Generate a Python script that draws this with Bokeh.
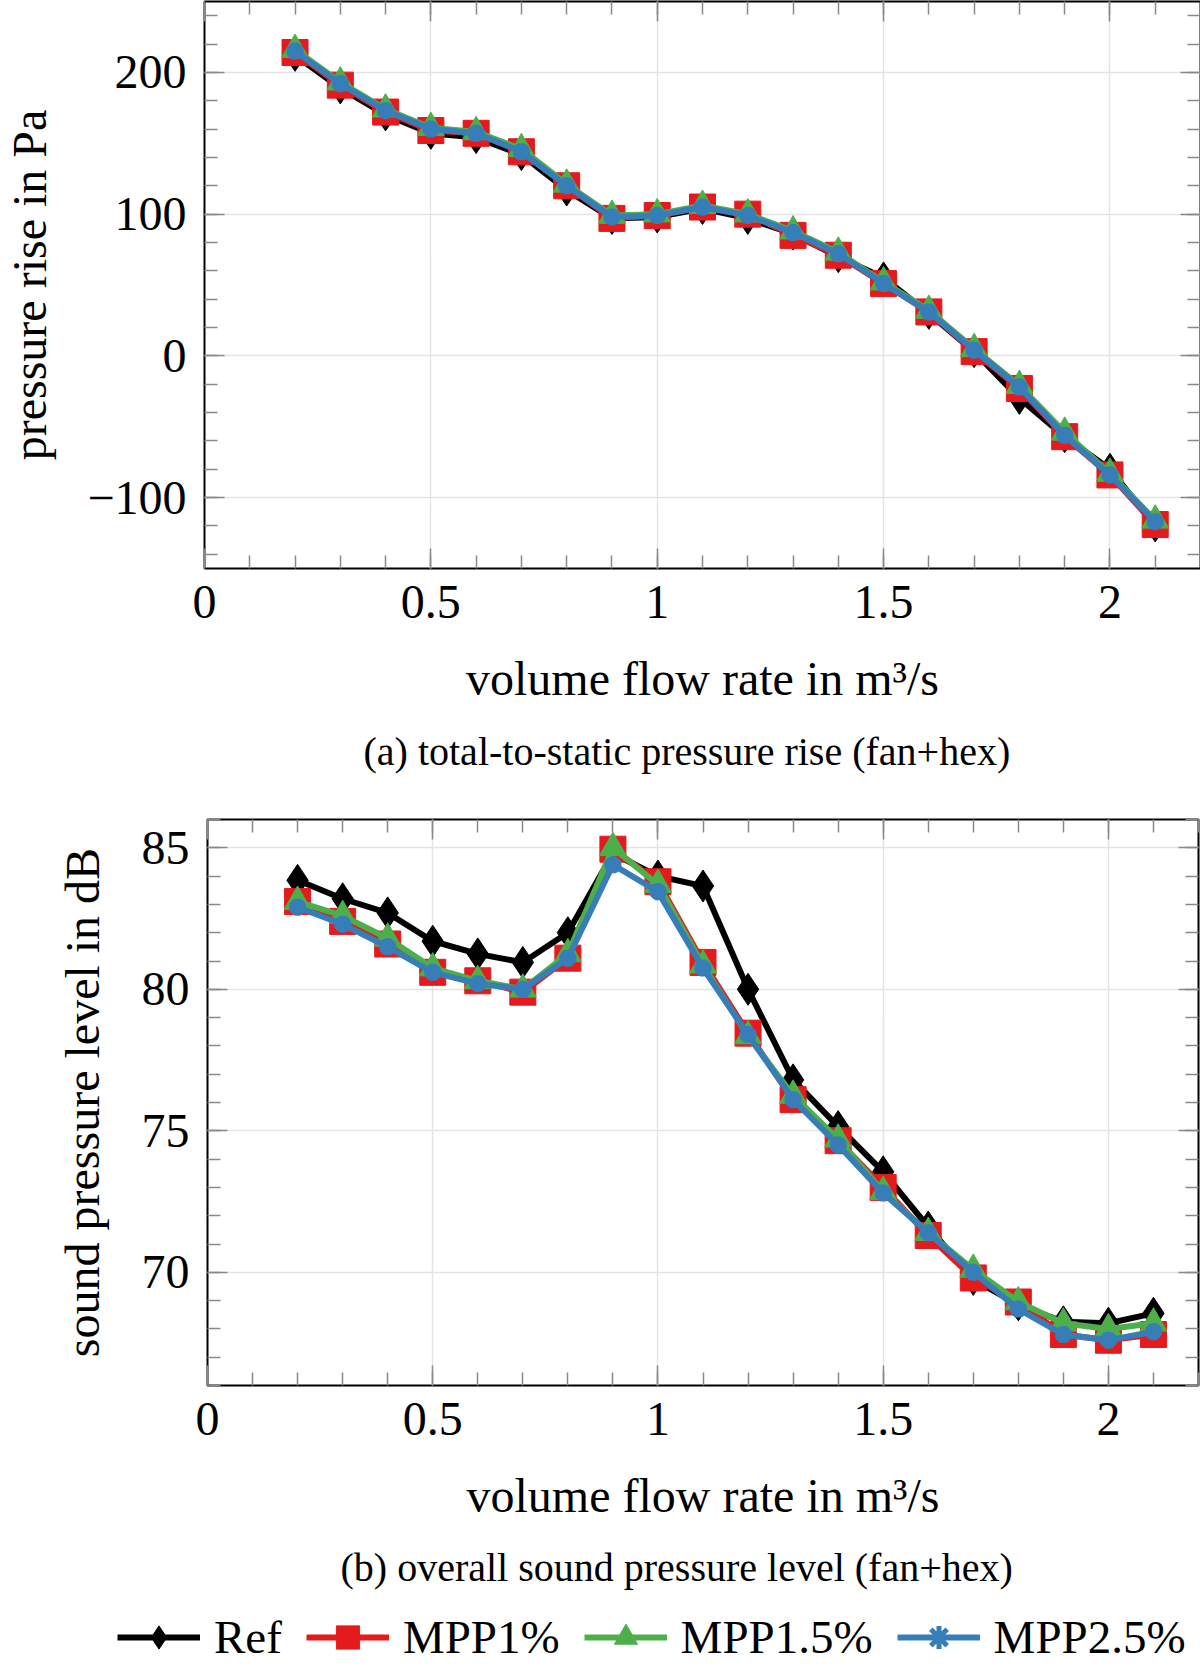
from bokeh.plotting import figure
from bokeh.layouts import column
from bokeh.models import (Range1d, LinearAxis, Title, Legend, LegendItem,
                          SingleIntervalTicker, ColumnDataSource)
from bokeh.embed import file_html
from bokeh.resources import INLINE

# ---------------- data ----------------
flow = [0.2, 0.3, 0.4, 0.5, 0.6, 0.7, 0.8, 0.9, 1.0, 1.1,
        1.2, 1.3, 1.4, 1.5, 1.6, 1.7, 1.8, 1.9, 2.0, 2.1]

dp_ref = [212, 189, 170, 157, 154, 142, 117, 97, 98, 104,
          97, 86, 70, 55, 30, 3, -30, -57, -80, -120]
dp_mpp1 = [214, 191, 172, 159, 157, 144, 120, 97, 99, 105,
           100, 85, 71, 51, 31, 3, -23, -57, -84, -119]
dp_mpp15 = [216, 193, 174, 161, 158, 146, 121, 99, 100, 106,
            100, 88, 73, 52, 32, 5, -21, -54, -83, -116]
dp_mpp25 = [215, 192, 173, 160, 157, 144, 120, 98, 99, 105,
            99, 87, 72, 51, 31, 4, -22, -56, -84, -117]

spl_ref = [83.85, 83.2, 82.7, 81.7, 81.25, 80.95, 82.0, 84.8, 84.0, 83.65,
           80.0, 76.8, 75.15, 73.55, 71.6, 69.75, 68.85, 68.25, 68.2, 68.55]
spl_mpp1 = [83.1, 82.4, 81.6, 80.6, 80.3, 79.9, 81.1, 84.95, 83.8, 80.95,
            78.45, 76.1, 74.65, 73.0, 71.3, 69.8, 68.95, 67.8, 67.6, 67.8]
spl_mpp15 = [83.1, 82.6, 81.8, 80.75, 80.3, 80.0, 81.25, 85.0, 83.7, 80.85,
             78.35, 76.25, 74.7, 72.85, 71.4, 70.1, 68.95, 68.2, 68.0, 68.2]
spl_mpp25 = [82.9, 82.3, 81.5, 80.6, 80.2, 80.0, 81.1, 84.4, 83.45, 80.75,
             78.4, 76.1, 74.5, 72.8, 71.4, 70.0, 68.7, 67.8, 67.6, 67.9]

series_names = ["Ref", "MPP1%", "MPP1.5%", "MPP2.5%"]
x_tick_labels = {0: "0", 0.5: "0.5", 1: "1", 1.5: "1.5", 2: "2"}
dp_tick_labels = {-100: "\u2212100", 0: "0", 100: "100", 200: "200"}
spl_tick_labels = {70: "70", 75: "75", 80: "80", 85: "85"}

# ---------------- style ----------------
FONT = "Liberation Serif"
FS = "48px"
COLORS = ["#000000", "#e41a1c", "#4daf4a", "#377eb8"]
MARKERS = ["diamond", "square", "triangle", "asterisk"]
MSIZES = [32, 26, 27, 17]
LW = 6
TICK_COLOR = "#8a8a8a"
FIG_W = 1200
FRAME_RIGHT_PAD = 2


def style_axis(ax, show_labels=True):
    ax.major_tick_in = 20
    ax.major_tick_out = 0
    ax.minor_tick_in = 13
    ax.minor_tick_out = 0
    ax.major_tick_line_color = TICK_COLOR
    ax.minor_tick_line_color = TICK_COLOR
    ax.major_tick_line_width = 1.5
    ax.minor_tick_line_width = 1.5
    ax.axis_line_color = None
    if show_labels:
        ax.major_label_text_font = FONT
        ax.major_label_text_font_size = FS
        ax.major_label_text_color = "black"
        ax.axis_label_text_font = FONT
        ax.axis_label_text_font_size = FS
        ax.axis_label_text_font_style = "normal"
        ax.axis_label_text_color = "black"
    else:
        ax.major_label_text_font_size = "1px"
        ax.major_label_text_color = None
        ax.major_label_standoff = 0
        ax.axis_label = None


def make_panel(yvals, yrange, yticker_interval, ylabels, ylabel, caption,
               frame_left, frame_h, top, bottom, ylabel_standoff, cap_offset,
               cap_standoff):
    frame_w = FIG_W - frame_left - FRAME_RIGHT_PAD
    p = figure(width=FIG_W, height=top + frame_h + bottom,
               frame_width=frame_w, frame_height=frame_h,
               x_range=Range1d(0, 2.2), y_range=Range1d(*yrange),
               output_backend="svg", toolbar_location=None, title=None,
               min_border_left=frame_left, min_border_right=FRAME_RIGHT_PAD,
               min_border_top=top, min_border_bottom=bottom)
    p.frame_align = False
    p.background_fill_color = "white"
    p.border_fill_color = "white"
    p.outline_line_color = "black"
    p.outline_line_width = 2

    xt = SingleIntervalTicker(interval=0.5, num_minor_ticks=5)
    yt = SingleIntervalTicker(interval=yticker_interval, num_minor_ticks=5)

    xa = p.xaxis[0]
    xa.ticker = xt
    xa.major_label_overrides = x_tick_labels
    xa.axis_label = "volume flow rate in m\u00b3/s"
    style_axis(xa)
    xa.major_label_standoff = 17
    xa.axis_label_standoff = 31

    ya = p.yaxis[0]
    ya.ticker = yt
    ya.major_label_overrides = ylabels
    ya.axis_label = ylabel
    style_axis(ya)
    ya.major_label_standoff = 18
    ya.axis_label_standoff = ylabel_standoff

    top_ax = LinearAxis(ticker=xt)
    style_axis(top_ax, show_labels=False)
    p.add_layout(top_ax, "above")
    right_ax = LinearAxis(ticker=yt)
    style_axis(right_ax, show_labels=False)
    p.add_layout(right_ax, "right")

    p.xgrid.ticker = xt
    p.ygrid.ticker = yt
    for g in (p.xgrid[0], p.ygrid[0]):
        g.grid_line_color = "#e4e4e4"
        g.grid_line_width = 1.5

    src = ColumnDataSource(dict(x=flow, y0=yvals[0], y1=yvals[1],
                                y2=yvals[2], y3=yvals[3]))
    for i in range(4):
        col = "y%d" % i
        p.line("x", col, source=src, line_color=COLORS[i], line_width=LW,
               line_join="miter")
        if MARKERS[i] == "asterisk":
            p.scatter("x", col, source=src, marker="asterisk", size=MSIZES[i],
                      line_color=COLORS[i], line_width=6)
        else:
            p.scatter("x", col, source=src, marker=MARKERS[i], size=MSIZES[i],
                      fill_color=COLORS[i], line_color=COLORS[i], line_width=1)

    cap = Title(text=caption, align="left", text_font=FONT,
                text_font_size="40px", text_font_style="normal",
                text_color="black", standoff=cap_standoff, offset=cap_offset)
    p.add_layout(cap, "below")
    return p


pA = make_panel([dp_ref, dp_mpp1, dp_mpp15, dp_mpp25], (-150, 250), 100,
                dp_tick_labels, "pressure rise in Pa",
                "(a) total-to-static pressure rise (fan+hex)",
                frame_left=202, frame_h=567, top=1, bottom=223,
                ylabel_standoff=28, cap_offset=159, cap_standoff=38)

pB = make_panel([spl_ref, spl_mpp1, spl_mpp15, spl_mpp25], (66, 86), 5,
                spl_tick_labels, "sound pressure level in dB",
                "(b) overall sound pressure level (fan+hex)",
                frame_left=207, frame_h=566, top=27, bottom=223,
                ylabel_standoff=30, cap_offset=133, cap_standoff=37)

# ---------------- legend strip ----------------
pC = figure(width=FIG_W, height=58, x_range=Range1d(10, 11), y_range=Range1d(10, 11),
            x_axis_type=None, y_axis_type=None,
            output_backend="svg", toolbar_location=None, title=None,
            min_border_left=0, min_border_right=0,
            min_border_top=0, min_border_bottom=0)
pC.frame_align = False
pC.grid.visible = False
pC.outline_line_color = None
pC.background_fill_color = "white"
pC.border_fill_color = "white"

srcC = ColumnDataSource(dict(x=flow, y=spl_ref))
items = []
for i in range(4):
    lr = pC.line("x", "y", source=srcC, line_color=COLORS[i], line_width=LW)
    if MARKERS[i] == "asterisk":
        sr = pC.scatter("x", "y", source=srcC, marker="asterisk",
                        line_color=COLORS[i], line_width=5)
    else:
        sr = pC.scatter("x", "y", source=srcC, marker=MARKERS[i],
                        fill_color=COLORS[i], line_color=COLORS[i])
    items.append(LegendItem(label=series_names[i], renderers=[lr, sr]))

leg = Legend(items=items, orientation="horizontal", location=(117, 0),
             glyph_width=83, glyph_height=58, label_standoff=14, spacing=24,
             label_text_font=FONT, label_text_font_size="47px",
             label_text_color="black", label_height=50,
             border_line_color=None, background_fill_alpha=0,
             padding=0, margin=0)
pC.add_layout(leg, "center")

layout = column(pA, pB, pC, spacing=0)

with open("out.html", "w") as f:
    f.write(file_html(layout, INLINE, title="fan+hex"))
